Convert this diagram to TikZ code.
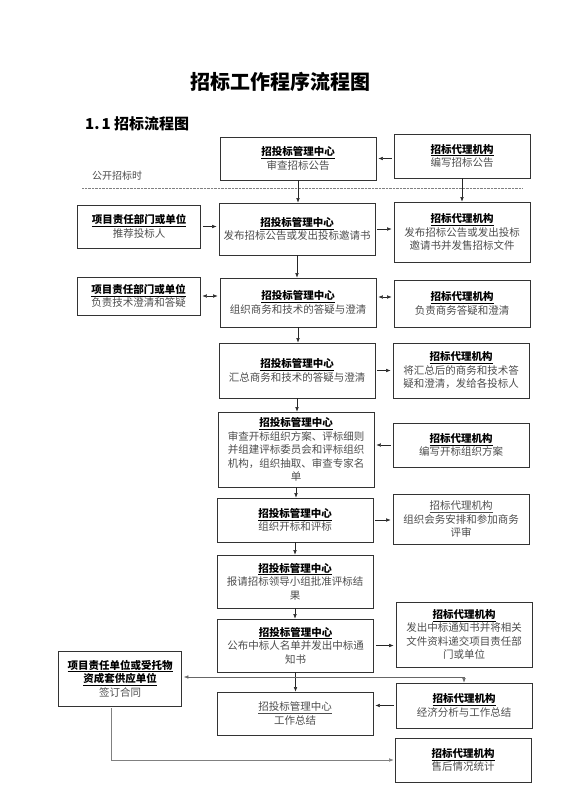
\documentclass[tikz,border=0pt]{standalone}
\usepackage{fontspec}
\setmainfont{Noto Sans CJK SC}
\usetikzlibrary{arrows.meta}
\newcommand{\boxhead}[1]{{\color{black}\underline{\textbf{#1}}}}
\newcommand{\boxheadlight}[1]{\underline{#1}}
\tikzset{
  box/.style={draw=black!80, line width=0.8pt, align=center, inner sep=2pt, text=black!70,
    font=\fontsize{10.5}{13.5}\selectfont},
  midbox/.style={box, minimum width=156pt},
  agbox/.style={box, minimum width=136pt},
  leftbox/.style={box, minimum width=123pt},
  arr/.style={-{Latex[length=4.5pt,width=3.5pt]}, black!85, shorten >=2pt, shorten <=2pt},
  downarr/.style={-{Latex[length=4.5pt,width=3.5pt]}, black!85},
}
\begin{document}
\begin{tikzpicture}[x=1pt, y=-1pt]
\useasboundingbox (0,0) rectangle (560,792);
\node[font=\fontsize{20}{24}\selectfont\bfseries] (title) at (280,82) {招标工作程序流程图};
\node[anchor=west, font=\fontsize{15}{18}\selectfont\bfseries, inner sep=0pt] (sec) at (85,124) {1.\hspace{2pt}1 招标流程图};
\node[anchor=west, font=\fontsize{10}{12}\selectfont, text=black!70, inner sep=0pt] (open) at (92,176) {公开招标时};
\draw[black!50, densely dotted] (82,188) -- (522,188);
% centre column
\node[midbox, minimum height=43pt] (c1) at (298,158.5) {\boxhead{招投标管理中心}\\审查招标公告};
\node[midbox, minimum height=52pt] (c2) at (297,229) {\boxhead{招投标管理中心}\\发布招标公告或发出投标邀请书};
\node[midbox, minimum height=49pt] (c3) at (298,302.5) {\boxhead{招投标管理中心}\\组织商务和技术的答疑与澄清};
\node[midbox, minimum height=55pt] (c4) at (297,370.5) {\boxhead{招投标管理中心}\\汇总商务和技术的答疑与澄清};
\node[midbox, minimum height=75pt] (c5) at (296,449.5) {\boxhead{招投标管理中心}\\审查开标组织方案、评标细则\\并组建评标委员会和评标组织\\机构，组织抽取、审查专家名\\单};
\node[midbox, minimum height=44pt] (c6) at (295,520) {\boxhead{招投标管理中心}\\组织开标和评标};
\node[midbox, minimum height=53pt] (c7) at (295,581.5) {\boxhead{招投标管理中心}\\报请招标领导小组批准评标结\\果};
\node[midbox, minimum height=53pt] (c8) at (295.5,645.5) {\boxhead{招投标管理中心}\\公布中标人名单并发出中标通\\知书};
\node[midbox, minimum height=43pt] (c9) at (295,713.5) {\boxheadlight{招投标管理中心}\\工作总结};
% agency column
\node[agbox, minimum height=44pt] (a1) at (462,156) {\boxhead{招标代理机构}\\编写招标公告};
\node[agbox, minimum height=60pt] (a2) at (462,232) {\boxhead{招标代理机构}\\发布招标公告或发出投标\\邀请书并发售招标文件};
\node[agbox, minimum height=47pt] (a3) at (462,303.5) {\boxhead{招标代理机构}\\负责商务答疑和澄清};
\node[agbox, minimum height=55pt] (a4) at (461,370.5) {\boxhead{招标代理机构}\\将汇总后的商务和技术答\\疑和澄清，发给各投标人};
\node[agbox, minimum height=44pt] (a5) at (461,445) {\boxhead{招标代理机构}\\编写开标组织方案};
\node[agbox, minimum height=50pt] (a6) at (461,519) {\boxheadlight{招标代理机构}\\组织会务安排和参加商务\\评审};
\node[agbox, minimum height=65pt] (a7) at (464,634.5) {\boxhead{招标代理机构}\\发出中标通知书并将相关\\文件资料递交项目责任部\\门或单位};
\node[agbox, minimum height=45pt] (a8) at (464,705.5) {\boxhead{招标代理机构}\\经济分析与工作总结};
\node[agbox, minimum height=44pt] (a9) at (463,760) {\boxhead{招标代理机构}\\售后情况统计};
% left column
\node[leftbox, minimum height=43pt] (l1) at (139,226.5) {\boxhead{项目责任部门或单位}\\推荐投标人};
\node[leftbox, minimum height=38pt] (l2) at (138.5,296) {\boxhead{项目责任部门或单位}\\负责技术澄清和答疑};
\node[leftbox, minimum height=55pt] (l3) at (120,678.5) {\boxhead{项目责任单位或受托物}\\\boxhead{资成套供应单位}\\签订合同};
% connectors
\draw[arr] (a1.west |- c1.east) -- (c1.east);
\draw[downarr] (c1.south) -- (c1.south |- c2.north);
\draw[downarr] (a1.south) -- (a1.south |- a2.north);
\draw[arr] (l1.east) -- (c2.west |- l1.east);
\draw[arr] (c2.east) -- (a2.west |- c2.east);
\draw[downarr] (c2.south) -- (c2.south |- c3.north);
\draw[arr, {Latex[length=4.5pt,width=3.5pt]}-{Latex[length=4.5pt,width=3.5pt]}] (l2.east) -- (c3.west |- l2.east);
\draw[arr, {Latex[length=4.5pt,width=3.5pt]}-{Latex[length=4.5pt,width=3.5pt]}] ([yshift=-1pt]c3.east |- l2.east) -- ([yshift=-1pt]a3.west |- l2.east);
\draw[downarr] (c3.south) -- (c3.south |- c4.north);
\draw[arr] (c4.east) -- (a4.west |- c4.east);
\draw[downarr] (c4.south) -- (c4.south |- c5.north);
\draw[arr] (a5.west) -- (c5.east |- a5.west);
\draw[downarr] (c5.south) -- (c5.south |- c6.north);
\draw[arr] (c6.east) -- (a6.west |- c6.east);
\draw[downarr] (c6.south) -- (c6.south |- c7.north);
\draw[downarr] (c7.south) -- (c7.south |- c8.north);
\draw[arr] (c8.east) -- (a7.west |- c8.east);
\draw[downarr] (c8.south) -- (c8.south |- c9.north);
\coordinate (split) at (c8.south |- 0,677);
\draw[arr, black!60, shorten <=0pt] (split) -- (l3.east |- split);
\draw[downarr, black!60] (split) -| (a8.north);
\draw[arr] (a8.west) -- (c9.east |- a8.west);
\draw[arr, black!50, shorten >=1pt] ([xshift=-9pt]l3.south) |- (a9.west);
\end{tikzpicture}
\end{document}
